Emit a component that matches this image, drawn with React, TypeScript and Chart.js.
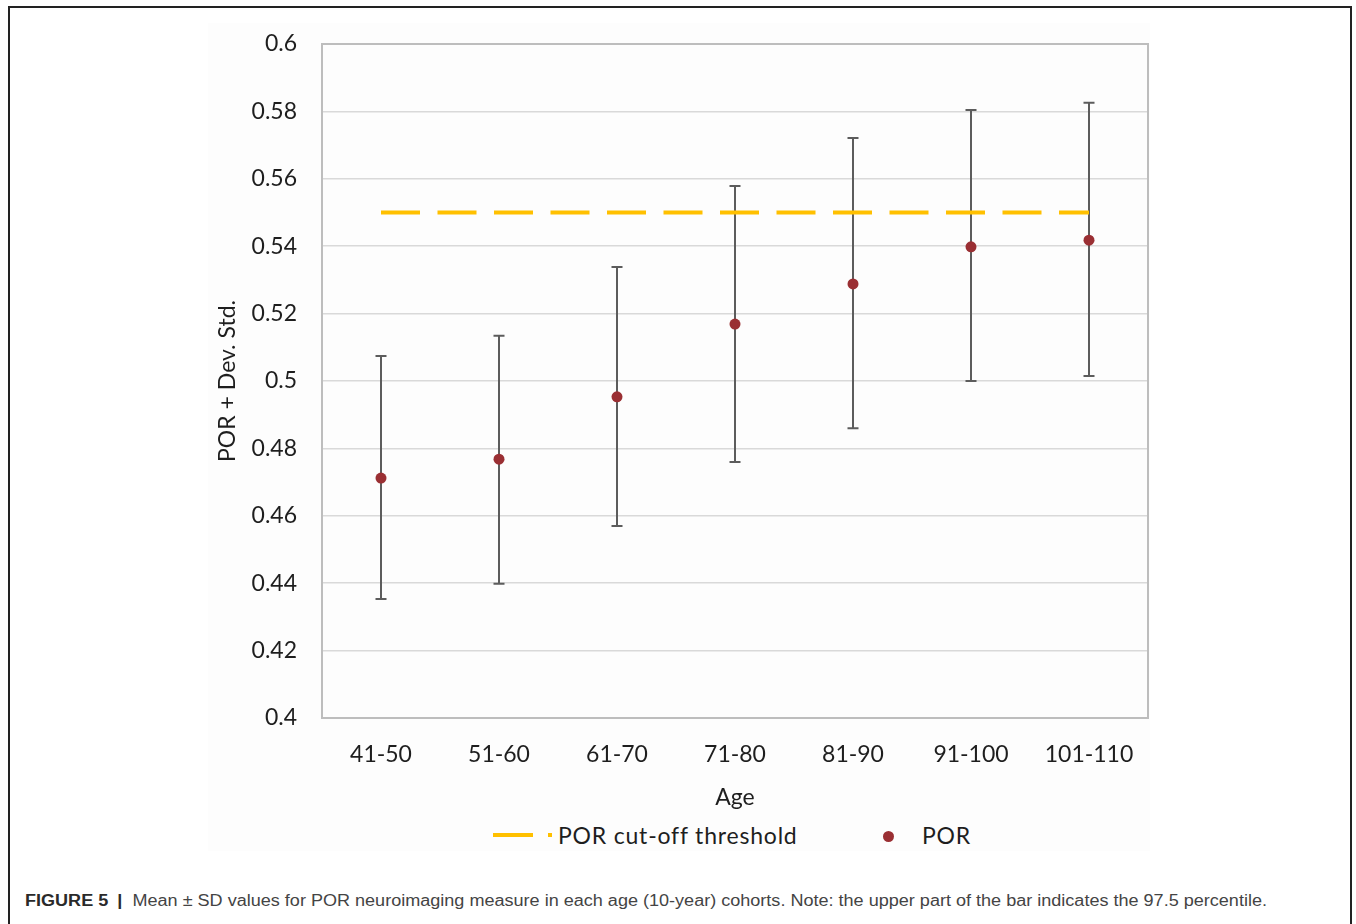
import React, { useEffect, useRef } from "react";
import { Chart, registerables } from "chart.js";

Chart.register(...registerables);

const categories = ["41-50", "51-60", "61-70", "71-80", "81-90", "91-100", "101-110"];
const porMean = [0.4712, 0.4768, 0.4953, 0.5169, 0.5288, 0.5398, 0.5418];
const porUpper = [0.5074, 0.5134, 0.5338, 0.5579, 0.5721, 0.5804, 0.5826];
const porLower = [0.4353, 0.4398, 0.457, 0.476, 0.486, 0.5, 0.5015];
const cutoff = [0.55, 0.55, 0.55, 0.55, 0.55, 0.55, 0.55];
const yMin = 0.4;
const yMax = 0.6;
const yStep = 0.02;

const POINT_COLOR = "#9A2F33";
const LINE_COLOR = "#FFC000";
const TEXT_COLOR = "#1e1e1e";
const FONT = "Lato, 'Open Sans', sans-serif";

const errorBarPlugin = {
  id: "errorBars",
  beforeDatasetsDraw(chart: any) {
    const { ctx, scales } = chart;
    const xs = scales.x;
    const ys = scales.y;
    ctx.save();
    ctx.strokeStyle = "#5c5c5c";
    ctx.lineWidth = 2;
    const cap = 5.5;
    for (let i = 0; i < categories.length; i++) {
      const x = xs.getPixelForValue(i);
      const yT = ys.getPixelForValue(porUpper[i]);
      const yB = ys.getPixelForValue(porLower[i]);
      ctx.beginPath();
      ctx.moveTo(x, yT);
      ctx.lineTo(x, yB);
      ctx.moveTo(x - cap, yT);
      ctx.lineTo(x + cap, yT);
      ctx.moveTo(x - cap, yB);
      ctx.lineTo(x + cap, yB);
      ctx.stroke();
    }
    ctx.restore();
  },
};

const framePlugin = {
  id: "frame",
  beforeDatasetsDraw(chart: any) {
    const { ctx, chartArea } = chart;
    ctx.save();
    ctx.strokeStyle = "#bdbdbd";
    ctx.lineWidth = 2;
    ctx.strokeRect(chartArea.left, chartArea.top, chartArea.right - chartArea.left, chartArea.bottom - chartArea.top);
    ctx.restore();
  },
};

function PorChart() {
  const ref = useRef<HTMLCanvasElement | null>(null);
  useEffect(() => {
    if (!ref.current) return;
    const chart = new Chart(ref.current, {
      type: "line",
      data: {
        labels: categories,
        datasets: [
          {
            label: "POR",
            data: porMean,
            showLine: false,
            pointRadius: 5.5,
            pointBackgroundColor: POINT_COLOR,
            pointBorderColor: POINT_COLOR,
            pointBorderWidth: 0,
            borderColor: POINT_COLOR,
            backgroundColor: POINT_COLOR,
          },
          {
            label: "POR cut-off threshold",
            data: cutoff,
            borderColor: LINE_COLOR,
            borderWidth: 4,
            borderDash: [39, 17.5],
            borderCapStyle: "butt",
            pointRadius: 0,
            fill: false,
          },
        ],
      },
      options: {
        responsive: false,
        animation: false,
        layout: { padding: { top: 24, right: 12, left: 0, bottom: 0 } },
        plugins: {
          legend: { display: false },
          tooltip: { enabled: false },
        },
        scales: {
          x: {
            offset: true,
            grid: { display: false, drawTicks: false },
            border: { display: true, color: "#bdbdbd", width: 2 },
            ticks: {
              color: TEXT_COLOR,
              font: { family: FONT, size: 23 },
              padding: 23,
              maxRotation: 0,
            },
            title: {
              display: true,
              text: "Age",
              color: TEXT_COLOR,
              font: { family: FONT, size: 23 },
              padding: { top: 0, bottom: 9 },
            },
            afterFit(scale: any) {
              scale.height = 102;
            },
          },
          y: {
            min: yMin,
            max: yMax,
            grid: {
              color: "#d9d9d9",
              lineWidth: 1.5,
              drawTicks: true,
              tickLength: 25,
              tickColor: "rgba(0,0,0,0)",
            },
            border: { display: true, color: "#bdbdbd", width: 2 },
            ticks: {
              stepSize: yStep,
              color: TEXT_COLOR,
              font: { family: FONT, size: 23 },
              padding: 0,
              callback: (v: any) => String(parseFloat(Number(v).toFixed(2))),
            },
            title: {
              display: true,
              text: "POR + Dev. Std.",
              color: TEXT_COLOR,
              font: { family: FONT, size: 23 },
              padding: { top: 14, bottom: 0 },
            },
            afterFit(scale: any) {
              scale.width = 122;
            },
          },
        },
      },
      plugins: [framePlugin, errorBarPlugin],
    });
    return () => chart.destroy();
  }, []);
  return (
    <canvas
      ref={ref}
      width={960}
      height={800}
      style={{ position: "absolute", left: 200, top: 20, width: 960, height: 800 }}
    />
  );
}

export default function App() {
  const legendText: React.CSSProperties = {
    position: "absolute",
    top: 820,
    height: 30,
    lineHeight: "30px",
    fontFamily: FONT,
    fontSize: 23,
    letterSpacing: "0.8px",
    color: TEXT_COLOR,
    whiteSpace: "nowrap",
  };
  const bold: React.CSSProperties = { fontWeight: "bold", color: "#2a2a2a" };
  return (
    <div
      style={{
        position: "absolute",
        left: 0,
        top: 0,
        width: 1356,
        height: 924,
        overflow: "hidden",
        background: "#ffffff",
      }}
    >
      <div
        style={{
          position: "absolute",
          left: 8,
          top: 6,
          width: 1344,
          height: 940,
          border: "2px solid #222",
          boxSizing: "border-box",
        }}
      />
      <div
        style={{
          position: "absolute",
          left: 208,
          top: 23,
          width: 942,
          height: 828,
          background: "#fdfdfd",
        }}
      />
      <PorChart />
      <div style={{ position: "absolute", left: 493, top: 833, width: 40, height: 4, background: LINE_COLOR }} />
      <div style={{ position: "absolute", left: 548, top: 833, width: 4, height: 4, background: LINE_COLOR }} />
      <div style={{ ...legendText, left: 558 }}>POR cut-off threshold</div>
      <div
        style={{
          position: "absolute",
          left: 883,
          top: 831,
          width: 11,
          height: 11,
          borderRadius: "50%",
          background: POINT_COLOR,
        }}
      />
      <div style={{ ...legendText, left: 922 }}>POR</div>
      <div
        style={{
          position: "absolute",
          left: 25,
          top: 890,
          lineHeight: "22px",
          fontFamily: "'Liberation Sans', Arial, sans-serif",
          fontSize: 16,
          color: "#444",
          whiteSpace: "nowrap",
          transform: "scaleX(1.128)",
          transformOrigin: "left center",
        }}
      >
        <span style={bold}>FIGURE 5</span>
        <span style={{ ...bold, margin: "0 9px 0 8px" }}>|</span>
        Mean ± SD values for POR neuroimaging measure in each age (10-year) cohorts. Note: the upper part of the bar
        indicates the 97.5 percentile.
      </div>
    </div>
  );
}
